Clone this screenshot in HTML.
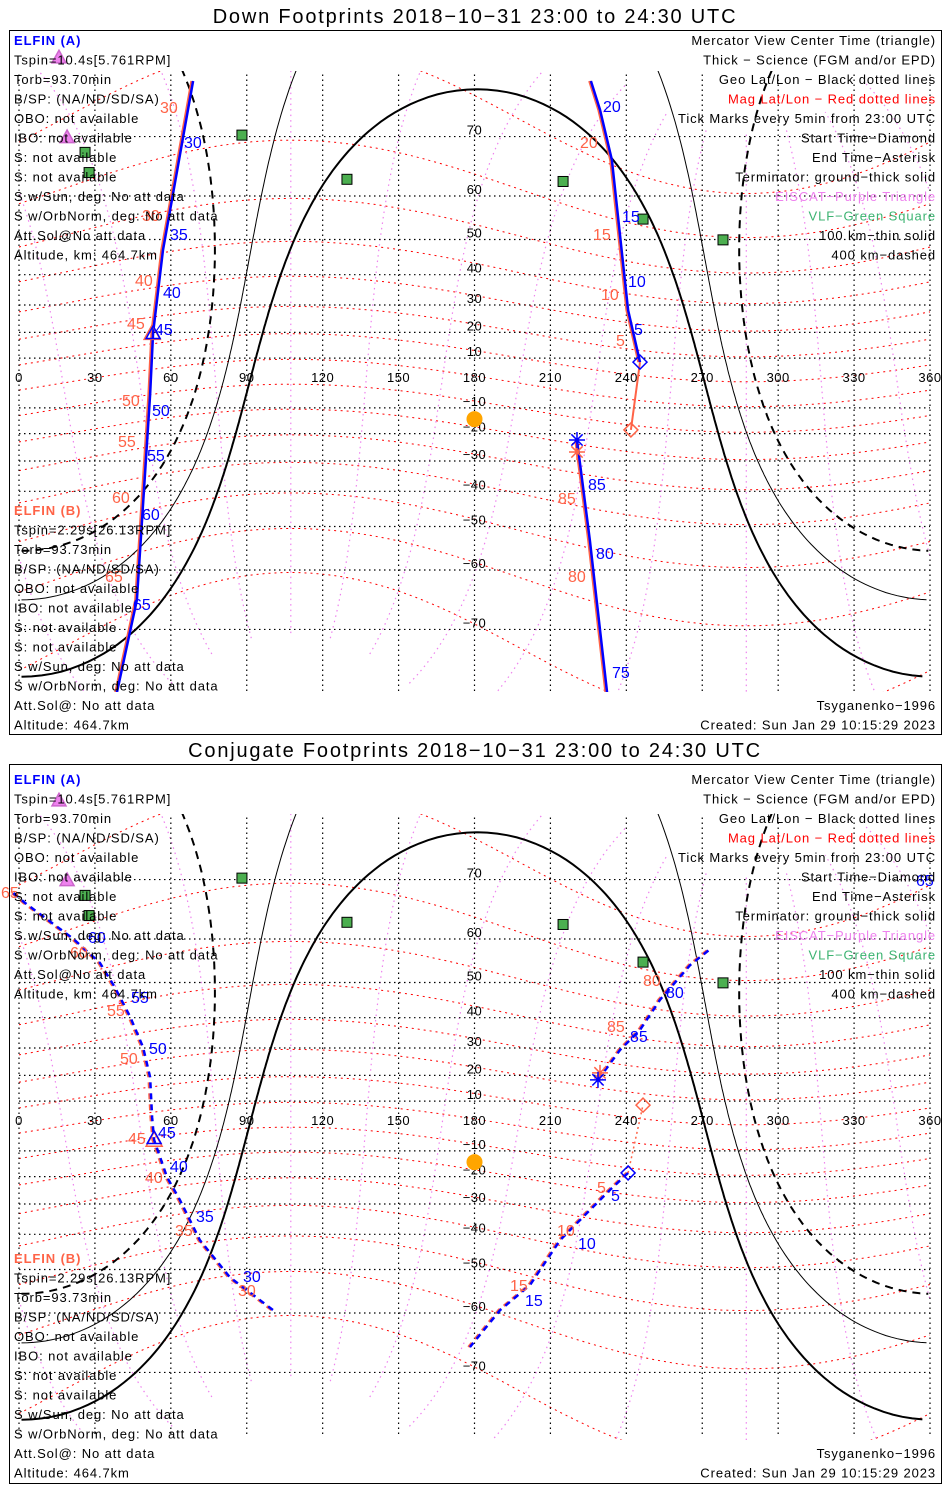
<!DOCTYPE html>
<html><head><meta charset="utf-8">
<style>
html,body{margin:0;padding:0;background:#fff;overflow:hidden;width:950px;height:1500px;}
svg{display:block;font-family:"Liberation Sans","DejaVu Sans",sans-serif;}
.t{font-size:13px;fill:#000;letter-spacing:0.9px;}
.r{text-anchor:end;}
.ttl{font-size:20px;text-anchor:middle;fill:#000;letter-spacing:1.8px;}
.gl{font-size:13px;text-anchor:middle;fill:#000;letter-spacing:0.5px;}
.bl{font-size:16px;fill:#0000ff;}
.ol{font-size:16px;fill:#ff6347;}
</style></head>
<body>
<svg id="chart" width="950" height="1500" viewBox="0 0 950 1500" xmlns="http://www.w3.org/2000/svg">
<defs>
<clipPath id="clipTop"><rect x="10" y="71" width="931" height="621"/></clipPath>
<clipPath id="clipBot"><rect x="10" y="814" width="931" height="626"/></clipPath>
</defs>
<text class="ttl" x="475" y="23">Down Footprints 2018−10−31 23:00 to 24:30 UTC</text>
<rect x="9.5" y="30.5" width="932" height="704" fill="none" stroke="#000"/>
<text class="ttl" x="475" y="757">Conjugate Footprints 2018−10−31 23:00 to 24:30 UTC</text>
<rect x="9.5" y="764.5" width="932" height="719" fill="none" stroke="#000"/>
<g id="topMap" clip-path="url(#clipTop)"></g>
<g id="botMap" clip-path="url(#clipBot)"></g>
<g id="overlay"></g>
<g id="textLayer"></g>
</svg>
<script>
// ---- data (geographic lon/lat, degrees) ----
const lonTicks = [0,30,60,90,120,150,180,210,240,270,300,330,360];
const latTicks = [-70,-60,-50,-40,-30,-20,-10,10,20,30,40,50,60,70];
const magLats = [-70,-60,-50,-40,-30,-20,-10,0,10,20,30,40,50,60,70];
const magLons = [0,30,60,90,120,150,180,210,240,270,300,330];
const subsolarLat = -14.4, subsolarLon = 181;
const magPoleLat = 80.5, magPoleLon = 287.4;
const terminatorDist = [90, 100.1, 109.7]; // ground, 100 km, 400 km

// Down footprints
const downA1Lon = [68.8, 56.9, 53.0, 51.8, 46.6, 38.7];
const downA1Lat = [76.4, 47.2, 19.8, -4.8, -65.5, -77.1];
const downA2Lon = [226.0, 229.6, 234.3, 240.7, 245.4];
const downA2Lat = [76.4, 73.4, 66.5, 28.2, 8.4];
const downB2Lon = [245.4, 241.8];
const downB2Lat = [8.4, -18.6];
const downA3Lon = [220.5, 225.6, 232.4];
const downA3Lat = [-22.4, -53.5, -77.1];
const downCenterLon = 53.0, downCenterLat = 19.8;

// Conjugate footprints
const conjA1Lon = [-5.5, 2.4, 21.3, 32.0, 37.9, 43.9, 49.0, 51.8, 52.6, 53.4, 58.5, 63.6, 71.5, 83.4, 100.4];
const conjA1Lat = [69.1, 66.5, 60.1, 54.8, 48.7, 40.3, 30.3, 19.4, 3.6, -5.6, -20.2, -28.6, -41.8, -52.0, -59.4];
const conjA2Lon = [240.7, 233.5, 225.6, 213.8, 201.9, 190.1, 178.2];
const conjA2Lat = [-18.6, -25.0, -32.1, -41.8, -53.9, -59.4, -66.2];
const conjB2Lon = [240.7, 246.6];
const conjB2Lat = [-18.6, 8.4];
const conjA3Lon = [228.8, 237.5, 245.4, 253.3, 265.2, 273.8];
const conjA3Lat = [18.3, 29.3, 36.1, 45.3, 54.3, 58.2];
const conjCenterLon = 53.4, conjCenterLat = -5.6;

const vlfLon = [88.1, 129.6, 26.1, 27.7, 215.0, 246.6, 278.2];
const vlfLat = [70.2, 63.2, 67.7, 64.4, 62.8, 55.0, 49.9];
const eiscatLon = [15.8, 19.0];
const eiscatLat = [78.4, 69.8];

// ---- helpers ----
const NS = "http://www.w3.org/2000/svg";
const R = Math.PI/180;
function merc(lat){ return Math.log(Math.tan(Math.PI/4 + lat*R/2)); }
function X(lon){ return 19 + lon*911/360; }
function makeY(y0){ return lat => y0 - 142*merc(lat); }
const Ytop = makeY(383), Ybot = makeY(1126);

function el(tag, attrs, parent){
  const e = document.createElementNS(NS, tag);
  for (const k in attrs) e.setAttribute(k, attrs[k]);
  parent.appendChild(e);
  return e;
}
function norm(l){ l = l % 360; if (l < 0) l += 360; return l; }
function pathFrom(pts, Y, wrap){
  let d = "", prev = null;
  for (const p of pts){
    if (!isFinite(p[1]) || Math.abs(p[1]) > 78) { prev = null; continue; }
    const lon = wrap ? norm(p[0]) : p[0];
    const cmd = (prev === null || Math.abs(lon - prev) > 180) ? "M" : "L";
    d += cmd + X(lon).toFixed(1) + "," + Y(p[1]).toFixed(1);
    prev = lon;
  }
  return d;
}
function drawPath(parent, pts, Y, style, name, wrap){
  const p = el("path", Object.assign({d: pathFrom(pts, Y, wrap), fill: "none"}, style), parent);
  
  
  return p;
}

function drawMap(g, Y, panel){
  const pl = magPoleLat*R;
  magLats.forEach(m => {
    const pts = [];
    for (let lon = 0; lon <= 360; lon += 2){
      const A = Math.sin(pl), B = Math.cos(pl)*Math.cos((lon - magPoleLon)*R);
      const Rr = Math.hypot(A, B), phi = Math.atan2(B, A);
      const s = Math.sin(m*R)/Rr;
      pts.push([lon, Math.abs(s) <= 1 ? (Math.asin(s) - phi)/R : NaN]);
    }
    drawPath(g, pts, Y, {stroke:"#ff0000", "stroke-width":1, "stroke-dasharray":"2 4"}, "mag-lat-line", false);
  });
  const th = (90 - magPoleLat)*R, pL = magPoleLon*R;
  magLons.forEach(ml => {
    const pts = [];
    for (let mt = -80; mt <= 80; mt += 1){
      const v = [Math.cos(mt*R)*Math.cos(ml*R), Math.cos(mt*R)*Math.sin(ml*R), Math.sin(mt*R)];
      const a = [Math.cos(th)*v[0] + Math.sin(th)*v[2], v[1], -Math.sin(th)*v[0] + Math.cos(th)*v[2]];
      const b = [Math.cos(pL)*a[0] - Math.sin(pL)*a[1], Math.sin(pL)*a[0] + Math.cos(pL)*a[1], a[2]];
      pts.push([Math.atan2(b[1], b[0])/R, Math.asin(b[2])/R]);
    }
    drawPath(g, pts, Y, {stroke:"#ee82ee", "stroke-width":1.2, "stroke-dasharray":"1.5 4"}, "mag-lon-line", true);
  });
  lonTicks.forEach(lon => {
    const l = el("line", {x1:X(lon), x2:X(lon), y1:Y(77), y2:Y(-77), stroke:"#000", "stroke-width":1.2, "stroke-dasharray":"1.5 3.5"}, g);
    
    
  });
  latTicks.forEach(lat => {
    const l = el("line", {x1:X(0), x2:X(360), y1:Y(lat), y2:Y(lat), stroke:"#000", "stroke-width":1.2, "stroke-dasharray":"1.5 3.5"}, g);
    
    
  });
  const p1 = subsolarLat*R;
  terminatorDist.forEach((dd, i) => {
    const d = dd*R, pts = [];
    for (let t = 0; t <= 360; t += 1){
      const tt = t*R;
      const lat2 = Math.asin(Math.sin(p1)*Math.cos(d) + Math.cos(p1)*Math.sin(d)*Math.cos(tt));
      const lon2 = subsolarLon + Math.atan2(Math.sin(tt)*Math.sin(d)*Math.cos(p1), Math.cos(d) - Math.sin(p1)*Math.sin(lat2))/R;
      pts.push([lon2, lat2/R]);
    }
    const style = i === 0 ? {stroke:"#000","stroke-width":2} : i === 1 ? {stroke:"#000","stroke-width":1} : {stroke:"#000","stroke-width":2,"stroke-dasharray":"8 6"};
    drawPath(g, pts, Y, style, ["terminator-ground","terminator-100km","terminator-400km"][i], true);
  });
  lonTicks.forEach(lon => {
    const t = el("text", {x:X(lon), y:Y(0) - 1, class:"gl"}, g);
    t.textContent = String(lon);
    
    
  });
  latTicks.forEach(lat => {
    const t = el("text", {x:X(180), y:Y(lat) - 2, class:"gl"}, g);
    t.textContent = lat < 0 ? "−" + (-lat) : String(lat);
    
    
  });
  const sun = el("circle", {cx:X(subsolarLon - 1), cy:Y(subsolarLat), r:8, fill:"#ffa500"}, g);
  
  
}

function zip(a, b){ return a.map((v, i) => [v, b[i]]); }
function track(g, lons, lats, Y, dashed, name){
  const pts = zip(lons, lats);
  const ds = dashed ? {"stroke-dasharray":"6 5"} : {};
  drawPath(g, pts, Y, Object.assign({stroke:"#ff6347","stroke-width":2.5, transform:"translate(-1.5,0)"}, ds), name + "-elfin-b", false);
  drawPath(g, pts, Y, Object.assign({stroke:"#0000ff","stroke-width":2.5}, ds), name + "-elfin-a", false);
}
function diamond(g, lon, lat, Y, color, name){
  const x = X(lon), y = Y(lat);
  const p = el("path", {d:`M${x},${y-7}L${x+7},${y}L${x},${y+7}L${x-7},${y}Z`, fill:"none", stroke:color, "stroke-width":1.5}, g);
  
  
}
function asterisk(g, x, y, color, name){
  let d = "";
  for (let a = 0; a < 180; a += 45){ const c = Math.cos(a*R)*8, s = Math.sin(a*R)*8; d += `M${x-c},${y-s}L${x+c},${y+s}`; }
  const p = el("path", {d, stroke:color, "stroke-width":1.5, fill:"none"}, g);
  
  
}
function triangle(g, x, y, s, stroke, fill, name){
  const p = el("path", {d:`M${x},${y-s}L${x+s},${y+s*0.8}L${x-s},${y+s*0.8}Z`, fill, stroke, "stroke-width":1.5}, g);
  
  
}
function label(g, x, y, txt, cls, name){
  const t = el("text", {x, y, class:cls}, g);
  t.textContent = txt;
  
  
}
function markers(ov, Y){
  vlfLon.forEach((lon, i) => {
    const x = X(lon), y = Y(vlfLat[i]);
    const r = el("rect", {x:x-5, y:y-5, width:10, height:10, fill:"#4caf50", stroke:"#000", "stroke-width":1}, ov);
    
    
  });
  eiscatLon.forEach((lon, i) => triangle(ov, X(lon), Y(eiscatLat[i]) - 1, 7, "#cc66cc", "#ee82ee", "eiscat-station"));
}

const topG = document.getElementById("topMap"), botG = document.getElementById("botMap"), ov = document.getElementById("overlay");
drawMap(topG, Ytop, "top");
drawMap(botG, Ybot, "bot");

track(topG, downA1Lon, downA1Lat, Ytop, false, "down-track-1");
track(topG, downA2Lon, downA2Lat, Ytop, false, "down-track-2");
drawPath(topG, zip(downB2Lon, downB2Lat), Ytop, {stroke:"#ff6347","stroke-width":2}, "down-track-b-start", false);
track(topG, downA3Lon, downA3Lat, Ytop, false, "down-track-3");
diamond(ov, downB2Lon[0], downB2Lat[0], Ytop, "#0000ff", "start-diamond-a");
diamond(ov, downB2Lon[1], downB2Lat[1], Ytop, "#ff6347", "start-diamond-b");
asterisk(ov, X(downA3Lon[0]), Ytop(downA3Lat[0]) + 12, "#ff6347", "end-asterisk-b");
asterisk(ov, X(downA3Lon[0]), Ytop(downA3Lat[0]), "#0000ff", "end-asterisk-a");
triangle(ov, X(downCenterLon) - 1, Ytop(downCenterLat), 8, "#ff6347", "none", "center-triangle-b");
triangle(ov, X(downCenterLon), Ytop(downCenterLat), 7, "#0000ff", "none", "center-triangle-a");

track(botG, conjA1Lon, conjA1Lat, Ybot, true, "conj-track-1");
track(botG, conjA2Lon, conjA2Lat, Ybot, true, "conj-track-2");
drawPath(botG, zip(conjB2Lon, conjB2Lat), Ybot, {stroke:"#ff6347","stroke-width":1.5,"stroke-dasharray":"2 3"}, "conj-track-b-start", false);
track(botG, conjA3Lon, conjA3Lat, Ybot, true, "conj-track-3");
diamond(ov, conjB2Lon[0], conjB2Lat[0], Ybot, "#0000ff", "start-diamond-a");
diamond(ov, conjB2Lon[1], conjB2Lat[1], Ybot, "#ff6347", "start-diamond-b");
asterisk(ov, X(conjA3Lon[0]) + 2, Ybot(conjA3Lat[0]) - 7, "#ff6347", "end-asterisk-b");
asterisk(ov, X(conjA3Lon[0]), Ybot(conjA3Lat[0]), "#0000ff", "end-asterisk-a");
triangle(ov, X(conjCenterLon), Ybot(conjCenterLat), 8, "#ff6347", "none", "center-triangle-b");
triangle(ov, X(conjCenterLon), Ybot(conjCenterLat) - 2, 7, "#0000ff", "none", "center-triangle-a");

markers(ov, Ytop);
markers(ov, Ybot);

const tl = [
 [184,148,"30","bl"],[170,240,"35","bl"],[163,298,"40","bl"],[155,335,"45","bl"],[152,416,"50","bl"],[147,461,"55","bl"],[142,520,"60","bl"],[133,610,"65","bl"],
 [603,112,"20","bl"],[622,222,"15","bl"],[628,287,"10","bl"],[634,335,"5","bl"],[588,490,"85","bl"],[596,559,"80","bl"],[612,678,"75","bl"],
 [160,113,"30","ol"],[142,221,"30","ol"],[135,286,"40","ol"],[127,329,"45","ol"],[122,406,"50","ol"],[118,447,"55","ol"],[112,503,"60","ol"],[105,582,"65","ol"],
 [580,148,"20","ol"],[593,240,"15","ol"],[601,300,"10","ol"],[616,346,"5","ol"],[558,504,"85","ol"],[568,582,"80","ol"],
 [88,943,"60","bl"],[131,1003,"55","bl"],[149,1054,"50","bl"],[158,1138,"45","bl"],[170,1172,"40","bl"],[196,1222,"35","bl"],[243,1282,"30","bl"],
 [611,1201,"5","bl"],[578,1249,"10","bl"],[525,1306,"15","bl"],[630,1042,"85","bl"],[666,998,"80","bl"],[916,886,"65","bl"],
 [70,958,"60","ol"],[107,1016,"55","ol"],[120,1064,"50","ol"],[128,1144,"45","ol"],[145,1183,"40","ol"],[175,1236,"35","ol"],[238,1296,"30","ol"],
 [597,1193,"5","ol"],[557,1236,"10","ol"],[510,1291,"15","ol"],[607,1032,"85","ol"],[643,986,"80","ol"],[1,898,"65","ol"]
];
tl.forEach(a => label(ov, a[0], a[1], a[2], a[3], "time-tick-label"));

const tg = document.getElementById("textLayer");
const leftA = ["Tspin=10.4s[5.761RPM]","Torb=93.70min","B/SP: (NA/ND/SD/SA)","OBO: not available","IBO: not available","S: not available","S: not available","S w/Sun, deg: No att data","S w/OrbNorm, deg: No att data","Att.Sol@No att data","Altitude, km: 464.7km"];
const leftB = ["Tspin=2.29s[26.13RPM]","Torb=93.73min","B/SP: (NA/ND/SD/SA)","OBO: not available","IBO: not available","S: not available","S: not available","S w/Sun, deg: No att data","S w/OrbNorm, deg: No att data","Att.Sol@: No att data","Altitude: 464.7km"];
const rightT = ["Mercator View Center Time (triangle)","Thick − Science (FGM and/or EPD)","Geo Lat/Lon − Black dotted lines","Mag Lat/Lon − Red dotted lines","Tick Marks every 5min from 23:00 UTC","Start Time−Diamond","End Time−Asterisk","Terminator: ground−thick solid","EISCAT−Purple Triangle","VLF−Green Square","100 km−thin solid","400 km−dashed"];
const rightC = ["#000","#000","#000","#ff0000","#000","#000","#000","#000","#ee82ee","#3cb371","#000","#000"];
function textBlock(aTop, bTop, step){
  const a = el("text", {x:14, y:aTop+5, class:"t"}, tg);
  a.setAttribute("style","fill:#0000ff;font-weight:bold");
  a.textContent = "ELFIN (A)";
  
  
  leftA.forEach((s, i) => label(tg, 14, aTop + (i+1)*step + 5, s, "t", "elfin-a-info"));
  const b = el("text", {x:14, y:bTop+5, class:"t"}, tg);
  b.setAttribute("style","fill:#ff6347;font-weight:bold");
  b.textContent = "ELFIN (B)";
  
  
  leftB.forEach((s, i) => label(tg, 14, bTop + (i+1)*step + 5, s, "t", "elfin-b-info"));
  rightT.forEach((s, i) => {
    const t = el("text", {x:936, y:aTop + i*step + 5, class:"t r"}, tg);
    t.setAttribute("style","fill:" + rightC[i]);
    t.textContent = s;
    
    
  });
  label(tg, 936, bTop + 10*step + 5, "Tsyganenko−1996", "t r", "model-label");
  label(tg, 936, bTop + 11*step + 5, "Created: Sun Jan 29 10:15:29 2023", "t r", "created-label");
}
textBlock(40, 510, 19.5);
textBlock(779, 1258, 19.5);
</script>
</body></html>
